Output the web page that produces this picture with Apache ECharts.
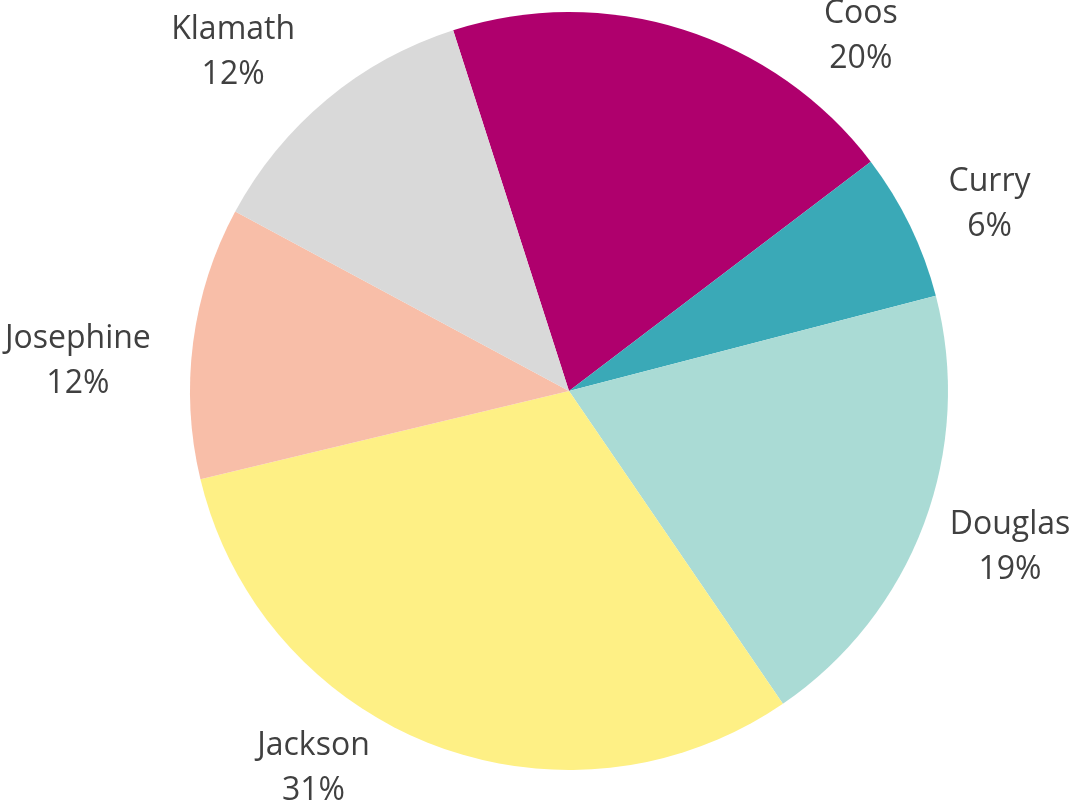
<!DOCTYPE html>
<html>
<head>
<meta charset="utf-8">
<script src="https://cdn.jsdelivr.net/npm/echarts@6/dist/echarts.min.js"></script>
<style>
  html, body { margin: 0; padding: 0; background: #ffffff; }
  #chart { width: 1070px; height: 803px; }
</style>
</head>
<body>
<div id="chart"></div>
<script>
// County shares, listed clockwise from the first slice
const counties = ['Coos', 'Curry', 'Douglas', 'Jackson', 'Josephine', 'Klamath'];
const shares = [19.6, 6.3, 19.5, 30.8, 11.6, 12.2];
const sliceColors = ['#AF006D', '#3AA9B7', '#AADBD5', '#FEF085', '#F8BEA8', '#D9D9D9'];

// Pie geometry
const CX = 569, CY = 391, R = 379;
const START = 107.8; // degrees, counter-clockwise from 3 o'clock

// Label placement: angular nudge from the slice middle (deg, clockwise) and distance from centre
const labelNudge = [22, 2, -1, 13, -4, -5];
const labelRadius = [459, 460, 468, 456, 492, 477];

const total = shares.reduce((a, b) => a + b, 0);
const midAngles = [];
let acc = 0;
shares.forEach(v => {
  const a0 = acc / total * 360;
  acc += v;
  const a1 = acc / total * 360;
  midAngles.push((a0 + a1) / 2 + (90 - START)); // clockwise from 12 o'clock
});

const chart = echarts.init(document.getElementById('chart'), null, { renderer: 'canvas' });
chart.setOption({
  animation: false,
  backgroundColor: '#ffffff',
  series: [{
    type: 'pie',
    center: [CX, CY],
    radius: [0, R],
    startAngle: START,
    clockwise: true,
    percentPrecision: 0,
    itemStyle: { borderWidth: 0 },
    label: {
      show: true,
      position: 'outside',
      formatter: '{b}\n{d}%',
      fontFamily: 'Open Sans',
      fontSize: 32,
      lineHeight: 45,
      color: '#404040',
      overflow: 'none'
    },
    labelLine: { show: false },
    emphasis: { disabled: true },
    labelLayout: function (params) {
      const i = params.dataIndex;
      const ang = (midAngles[i] + labelNudge[i]) * Math.PI / 180;
      return {
        x: CX + labelRadius[i] * Math.sin(ang),
        y: CY - labelRadius[i] * Math.cos(ang),
        align: 'center',
        verticalAlign: 'middle'
      };
    },
    data: counties.map((name, i) => ({
      name: name,
      value: shares[i],
      itemStyle: { color: sliceColors[i] }
    }))
  }]
});
</script>
</body>
</html>
